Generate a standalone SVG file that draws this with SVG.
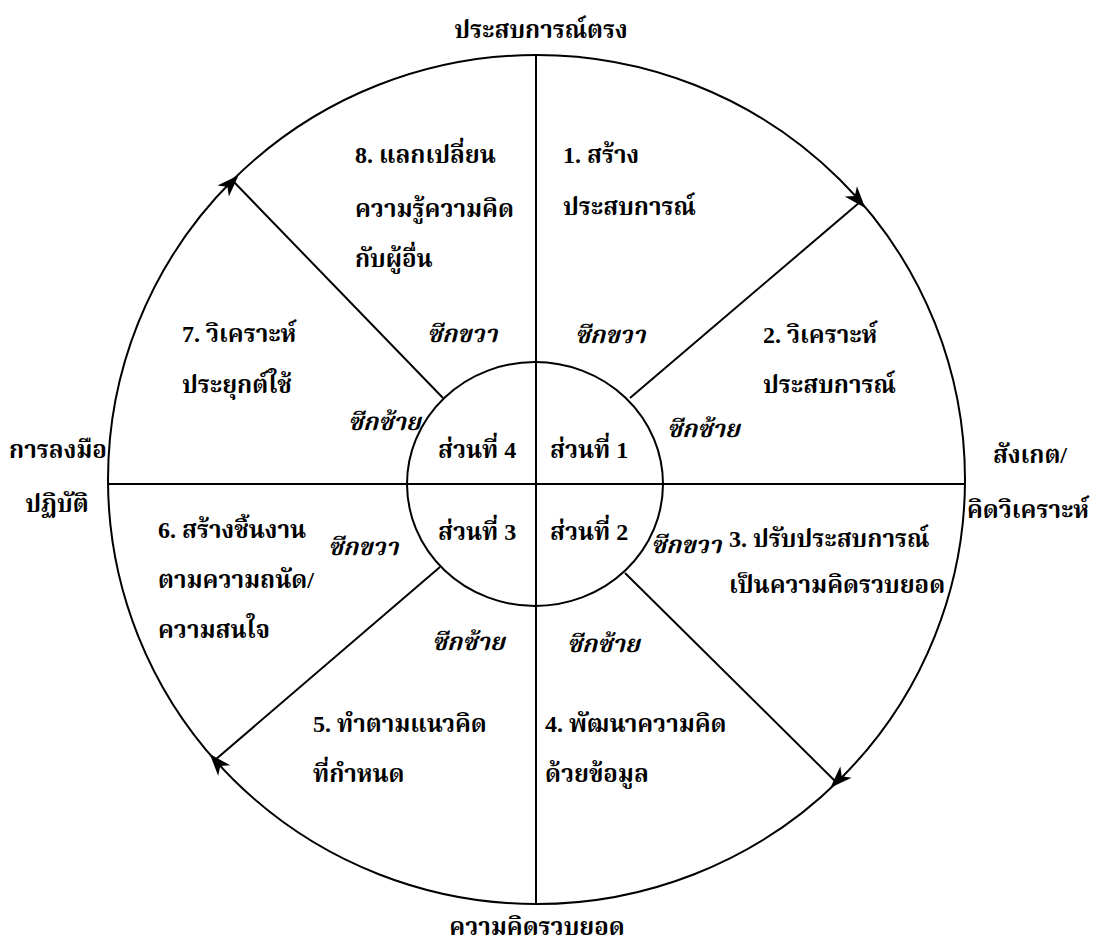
<svg xmlns="http://www.w3.org/2000/svg" width="1098" height="941" viewBox="0 0 1098 941">
<style>
text { font-family: "Liberation Serif", "Noto Serif Thai", "Noto Sans Thai", "Noto Sans", serif; font-weight: bold; font-size: 24px; fill: #000; }
.it { font-style: italic; }
.mid { text-anchor: middle; }
.ln { fill: none; stroke: #000; stroke-width: 2; }
.ah { fill: #000; stroke: none; }
</style>
<defs>
<path id="arrow" d="M8,0 L-14,-8 L-8,0 L-14,8 Z"/>
</defs>
<rect width="1098" height="941" fill="#fff"/>
<g id="connectors">
<ellipse class="ln" cx="536.5" cy="479.5" rx="428.5" ry="424.5"/>
<line class="ln" x1="536" y1="55" x2="536" y2="904"/>
<line class="ln" x1="108" y1="484" x2="965" y2="484"/>
<line class="ln" x1="630" y1="398" x2="860" y2="202"/>
<line class="ln" x1="625" y1="573" x2="836" y2="782"/>
<line class="ln" x1="440" y1="567" x2="215" y2="760"/>
<line class="ln" x1="443" y1="398" x2="233" y2="181"/>
<use href="#arrow" class="ah" transform="translate(860,202) rotate(49.4)"/>
<use href="#arrow" class="ah" transform="translate(836,782) rotate(135.3)"/>
<use href="#arrow" class="ah" transform="translate(215,760) rotate(228.9)"/>
<use href="#arrow" class="ah" transform="translate(233,181) rotate(-45.5)"/>
</g>
<g id="center">
<ellipse cx="535" cy="484" rx="128" ry="122" fill="#fff" stroke="#000" stroke-width="2"/>
<line class="ln" x1="536" y1="362" x2="536" y2="606"/>
<line class="ln" x1="407" y1="484" x2="663" y2="484"/>
<text x="438" y="458">ส่วนที่ 4</text>
<text x="550" y="458">ส่วนที่ 1</text>
<text x="438" y="540">ส่วนที่ 3</text>
<text x="550" y="540">ส่วนที่ 2</text>
</g>
<g id="label-top"><text class="mid" x="541" y="38">ประสบการณ์ตรง</text></g>
<g id="label-right"><text class="mid" x="1030" y="463">สังเกต/</text><text class="mid" x="1028" y="518">คิดวิเคราะห์</text></g>
<g id="label-bottom"><text class="mid" x="537" y="935">ความคิดรวบยอด</text></g>
<g id="label-left"><text class="mid" x="58" y="458">การลงมือ</text><text class="mid" x="57" y="512">ปฏิบัติ</text></g>
<g id="step1"><text x="563" y="163">1. สร้าง</text><text x="563" y="215">ประสบการณ์</text></g>
<g id="step2"><text x="763" y="343">2. วิเคราะห์</text><text x="763" y="393">ประสบการณ์</text></g>
<g id="step3"><text x="729" y="547">3. ปรับประสบการณ์</text><text x="729" y="593">เป็นความคิดรวบยอด</text></g>
<g id="step4"><text x="545" y="732">4. พัฒนาความคิด</text><text x="545" y="782">ด้วยข้อมูล</text></g>
<g id="step5"><text x="313" y="732">5. ทำตามแนวคิด</text><text x="313" y="782">ที่กำหนด</text></g>
<g id="step6"><text x="158" y="538">6. สร้างชิ้นงาน</text><text x="158" y="588">ตามความถนัด/</text><text x="158" y="638">ความสนใจ</text></g>
<g id="step7"><text x="182" y="342">7. วิเคราะห์</text><text x="182" y="393">ประยุกต์ใช้</text></g>
<g id="step8"><text x="355" y="163">8. แลกเปลี่ยน</text><text x="355" y="217">ความรู้ความคิด</text><text x="355" y="267">กับผู้อื่น</text></g>
<g id="hemi">
<text class="it" x="575" y="343">ซีกขวา</text>
<text class="it" x="667" y="437">ซีกซ้าย</text>
<text class="it" x="651" y="553">ซีกขวา</text>
<text class="it" x="567" y="652">ซีกซ้าย</text>
<text class="it" x="432" y="650">ซีกซ้าย</text>
<text class="it" x="328" y="555">ซีกขวา</text>
<text class="it" x="348" y="430">ซีกซ้าย</text>
<text class="it" x="427" y="342">ซีกขวา</text>
</g>
</svg>
